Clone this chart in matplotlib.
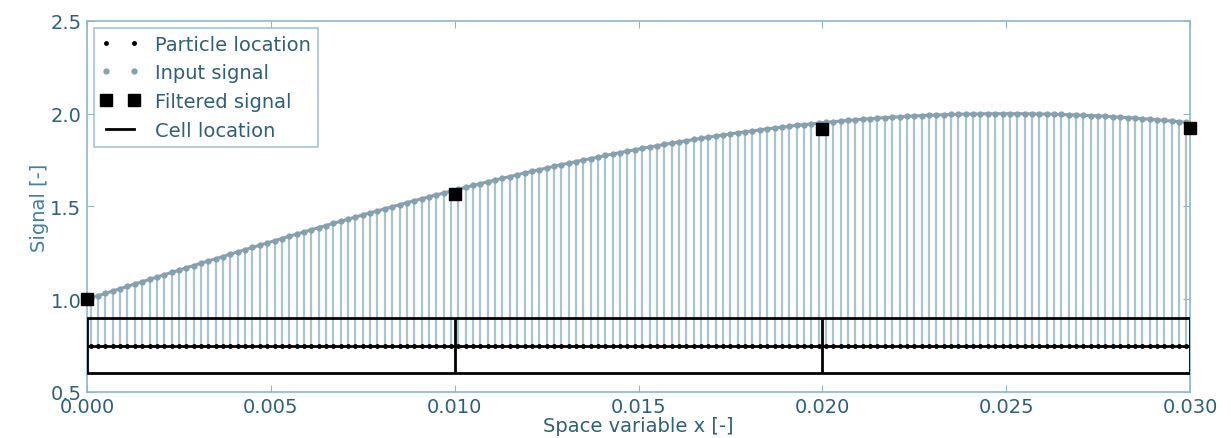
import matplotlib
matplotlib.use("Agg")
import matplotlib.pyplot as plt
import numpy as np

# ---- data ----
particle_x = [
    0.0001, 0.0003, 0.0005, 0.0007, 0.0009, 0.0011, 0.0013, 0.0015, 0.0017, 0.0019,
    0.0021, 0.0023, 0.0025, 0.0027, 0.0029, 0.0031, 0.0033, 0.0035, 0.0037, 0.0039,
    0.0041, 0.0043, 0.0045, 0.0047, 0.0049, 0.0051, 0.0053, 0.0055, 0.0057, 0.0059,
    0.0061, 0.0063, 0.0065, 0.0067, 0.0069, 0.0071, 0.0073, 0.0075, 0.0077, 0.0079,
    0.0081, 0.0083, 0.0085, 0.0087, 0.0089, 0.0091, 0.0093, 0.0095, 0.0097, 0.0099,
    0.0101, 0.0103, 0.0105, 0.0107, 0.0109, 0.0111, 0.0113, 0.0115, 0.0117, 0.0119,
    0.0121, 0.0123, 0.0125, 0.0127, 0.0129, 0.0131, 0.0133, 0.0135, 0.0137, 0.0139,
    0.0141, 0.0143, 0.0145, 0.0147, 0.0149, 0.0151, 0.0153, 0.0155, 0.0157, 0.0159,
    0.0161, 0.0163, 0.0165, 0.0167, 0.0169, 0.0171, 0.0173, 0.0175, 0.0177, 0.0179,
    0.0181, 0.0183, 0.0185, 0.0187, 0.0189, 0.0191, 0.0193, 0.0195, 0.0197, 0.0199,
    0.0201, 0.0203, 0.0205, 0.0207, 0.0209, 0.0211, 0.0213, 0.0215, 0.0217, 0.0219,
    0.0221, 0.0223, 0.0225, 0.0227, 0.0229, 0.0231, 0.0233, 0.0235, 0.0237, 0.0239,
    0.0241, 0.0243, 0.0245, 0.0247, 0.0249, 0.0251, 0.0253, 0.0255, 0.0257, 0.0259,
    0.0261, 0.0263, 0.0265, 0.0267, 0.0269, 0.0271, 0.0273, 0.0275, 0.0277, 0.0279,
    0.0281, 0.0283, 0.0285, 0.0287, 0.0289, 0.0291, 0.0293, 0.0295, 0.0297, 0.0299,
]
input_signal = [
    1.006, 1.019, 1.031, 1.044, 1.057, 1.069, 1.082, 1.094, 1.107, 1.119,
    1.132, 1.144, 1.156, 1.169, 1.181, 1.194, 1.206, 1.218, 1.230, 1.243,
    1.255, 1.267, 1.279, 1.291, 1.303, 1.315, 1.327, 1.339, 1.351, 1.362,
    1.374, 1.386, 1.397, 1.409, 1.420, 1.431, 1.443, 1.454, 1.465, 1.476,
    1.487, 1.498, 1.509, 1.520, 1.531, 1.541, 1.552, 1.562, 1.572, 1.583,
    1.593, 1.603, 1.613, 1.623, 1.633, 1.642, 1.652, 1.661, 1.671, 1.680,
    1.689, 1.698, 1.707, 1.716, 1.725, 1.733, 1.742, 1.750, 1.758, 1.766,
    1.775, 1.782, 1.790, 1.798, 1.805, 1.813, 1.820, 1.827, 1.834, 1.841,
    1.848, 1.854, 1.861, 1.867, 1.873, 1.879, 1.885, 1.891, 1.897, 1.902,
    1.907, 1.913, 1.918, 1.923, 1.927, 1.932, 1.937, 1.941, 1.945, 1.949,
    1.953, 1.957, 1.960, 1.964, 1.967, 1.970, 1.973, 1.976, 1.979, 1.981,
    1.983, 1.986, 1.988, 1.990, 1.991, 1.993, 1.994, 1.996, 1.997, 1.998,
    1.998, 1.999, 2.000, 2.000, 2.000, 2.000, 2.000, 2.000, 1.999, 1.998,
    1.998, 1.997, 1.996, 1.994, 1.993, 1.991, 1.990, 1.988, 1.986, 1.983,
    1.981, 1.979, 1.976, 1.973, 1.970, 1.967, 1.964, 1.960, 1.957, 1.953,
]
particle_level = 0.75

cell_x = [0.000, 0.010, 0.020, 0.030]
filtered_signal = [1.00, 1.565, 1.915, 1.925]
cell_bottom = 0.6
cell_top = 0.9

x_ticks = [0.000, 0.005, 0.010, 0.015, 0.020, 0.025, 0.030]
x_tick_labels = ["0.000", "0.005", "0.010", "0.015", "0.020", "0.025", "0.030"]
y_ticks = [0.5, 1.0, 1.5, 2.0, 2.5]
y_tick_labels = ["0.5", "1.0", "1.5", "2.0", "2.5"]

# ---- styling ----
spine_col = "#8db6cf"
text_col = "#2f5f7a"
stem_col = "#abc2cf"
sig_col = "#85a0ae"
FS = 14

fig = plt.figure(figsize=(12.31, 4.39), dpi=100)
ax = fig.add_axes([0.0707, 0.105, 0.896, 0.845])

# stems of input signal (from particle level up to signal)
ax.vlines(particle_x, particle_level, input_signal, colors=stem_col, linewidth=1.6, zorder=1)
# baseline at particle level
ax.plot([cell_x[0], cell_x[-1]], [particle_level, particle_level], color="black", lw=2, zorder=2)

# particle locations
ax.plot(particle_x, [particle_level] * len(particle_x), linestyle="none", marker=".",
        color="black", markersize=5, label="Particle location", zorder=3)
# input signal (dense dots read as a line)
ax.plot(particle_x, input_signal, linestyle="-", lw=2.2, color=sig_col, zorder=3)
ax.plot(particle_x, input_signal, linestyle="none", marker=".", color=sig_col,
        markersize=7, label="Input signal", zorder=3)
# filtered signal
ax.plot(cell_x, filtered_signal, linestyle="none", marker="s", color="black",
        markersize=9, label="Filtered signal", zorder=5, clip_on=False)

# cell locations
ax.plot([cell_x[0], cell_x[-1]], [cell_bottom, cell_bottom], color="black", lw=2, zorder=4,
        label="Cell location")
ax.plot([cell_x[0], cell_x[-1]], [cell_top, cell_top], color="black", lw=2, zorder=4)
ax.vlines(cell_x, cell_bottom, cell_top, colors="black", linewidth=2, zorder=4)

ax.set_xlim(0.0, 0.03)
ax.set_ylim(0.5, 2.5)
ax.set_xticks(x_ticks)
ax.set_xticklabels(x_tick_labels)
ax.set_yticks(y_ticks)
ax.set_yticklabels(y_tick_labels)
ax.tick_params(direction="in", top=True, right=True, length=5, color=spine_col,
               labelsize=FS, labelcolor=text_col, pad=4)
for s in ax.spines.values():
    s.set_color(spine_col)
    s.set_linewidth(1.2)

ax.set_xlabel("Space variable x [-]", fontsize=FS, color=text_col, labelpad=0)
ax.set_ylabel("Signal [-]", fontsize=FS, color="#3f7fa8", labelpad=1)

leg = ax.legend(loc="upper left", numpoints=2, fontsize=FS, frameon=True, fancybox=False,
                borderpad=0.35, labelspacing=0.5, handlelength=2.0, handletextpad=0.8,
                borderaxespad=0.35)
leg.get_frame().set_edgecolor(spine_col)
leg.get_frame().set_linewidth(1.2)
for t in leg.get_texts():
    t.set_color(text_col)

fig.savefig("out.png", dpi=100, facecolor="white")
